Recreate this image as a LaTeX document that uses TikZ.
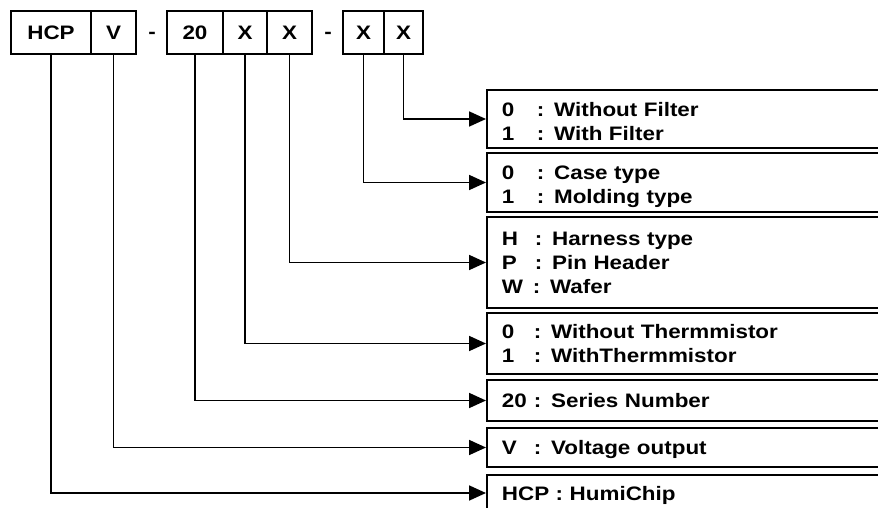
\documentclass[tikz,border=0pt]{standalone}
\usepackage{fontspec}
\newfontfamily\codefont{Liberation Sans}[FakeStretch=1.15]
\usetikzlibrary{arrows.meta}

\tikzset{
  casilla/.style={draw, line width=1.8pt, inner sep=0pt, minimum height=43pt, text depth=0pt},
  opcion/.style={draw, line width=1.8pt, anchor=west, text width=374pt, inner xsep=15pt,
                 inner ysep=0pt, align=left},
  flecha/.style={line width=1.8pt, -{Triangle[length=17pt,width=15pt]}}
}
\newcommand{\clave}[2][32pt]{\makebox[#1][l]{#2}}

\begin{document}
\begin{tikzpicture}[x=1pt, y=-1pt, font=\codefont\bfseries\fontsize{19.5}{24}\selectfont]

    % Fijamos el marco de la figura
    \useasboundingbox (0,0) rectangle (878,508);
    \clip (0,0) rectangle (878,508);

    % Dibujamos las casillas del codigo
    \foreach \nombre/\x/\ancho/\texto in {hcpk/51/80/HCP, vk/113.5/45/V, serk/195/56/20,
        thk/245/44/X, cnk/289.5/45/X, cjk/363.5/41/X, flk/403.5/39/X}
        \node[casilla, minimum width=\ancho pt] (\nombre) at (\x,32.5) {\texto};

    % Guiones entre grupos
    \node (guiona) at (152,35) {-};
    \node (guionb) at (328,35) {-};

    % Cajas con las opciones
    \node[opcion, minimum height=58pt, text depth=20pt] (filtro) at (486,119)
        {\clave[35pt]{0}: Without Filter\\\clave[35pt]{1}: With Filter};
    \node[opcion, minimum height=59pt, text depth=19pt] (caja) at (486,182.5)
        {\clave[35pt]{0}: Case type\\\clave[35pt]{1}: Molding type};
    \node[opcion, minimum height=91pt] (conector) at (486,262.5)
        {\clave[33pt]{H}: Harness type\\\clave[33pt]{P}: Pin Header\\\clave[31pt]{W}: Wafer};
    \node[opcion, minimum height=61pt, text depth=24pt] (termistor) at (486,343.5)
        {\clave{0}: Without Thermmistor\\\clave{1}: WithThermmistor};
    \node[opcion, minimum height=41pt, text depth=0pt] (serie) at (486,400.5)
        {\clave{20}: Series Number};
    \node[opcion, minimum height=39pt, text depth=0pt] (tension) at (486,447.5)
        {\clave{V}: Voltage output};
    \node[opcion, minimum height=36pt, text depth=0pt] (humichip) at (486,493)
        {HCP : HumiChip};

    % Flechas de cada casilla a su caja
    \draw[flecha] (flk.south) |- (filtro.west);
    \draw[flecha] (cjk.south) |- (caja.west);
    \draw[flecha] (cnk.south) |- (conector.west);
    \draw[flecha] (thk.south) |- (termistor.west);
    \draw[flecha] (serk.south) |- (serie.west);
    \draw[flecha] (vk.south) |- (tension.west);
    \draw[flecha] (hcpk.south) |- (humichip.west);

\end{tikzpicture}
\end{document}
